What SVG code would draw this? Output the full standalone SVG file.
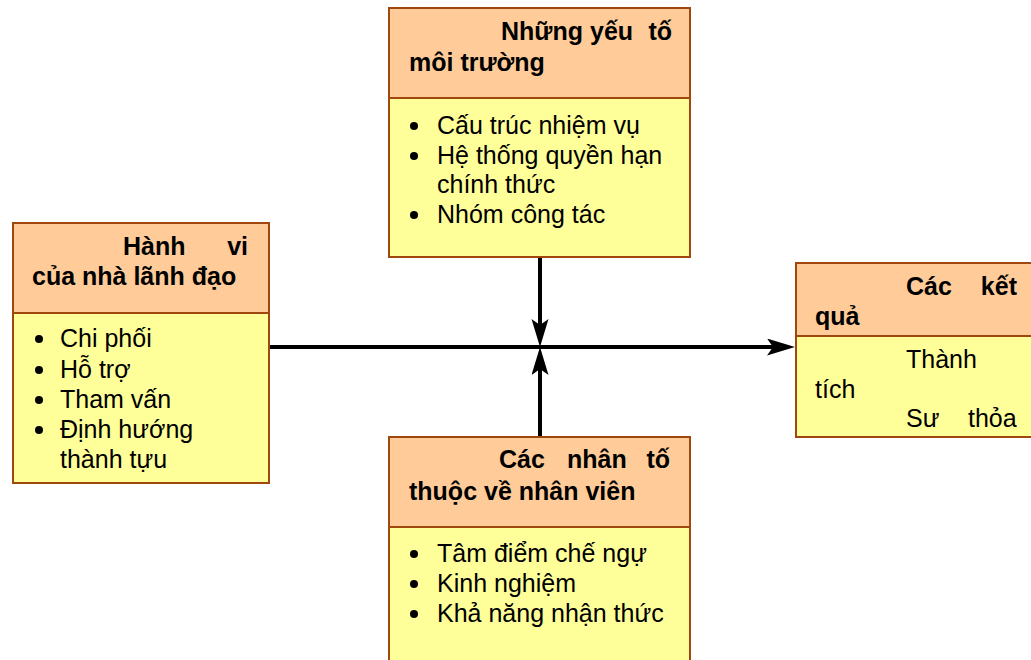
<svg xmlns="http://www.w3.org/2000/svg" width="1031" height="660" viewBox="0 0 1031 660">
<style>
.hd{fill:#FFCC99;stroke:#A0460F;stroke-width:2}
.bd{fill:#FFFF99;stroke:#A0460F;stroke-width:2}
.h{font-family:"Liberation Sans",Arial,sans-serif;font-size:25px;font-weight:bold;fill:#000}
.t{font-family:"Liberation Sans",Arial,sans-serif;font-size:25px;fill:#000}
.b{fill:#000}
.c{stroke:#000;stroke-width:4;fill:none;marker-end:url(#ah)}
</style>
<defs>
<marker id="ah" markerUnits="userSpaceOnUse" markerWidth="30" markerHeight="18" refX="8" refY="8.5" orient="auto">
<path d="M0,0 L28,8.5 L0,17 L6,8.5 Z" fill="#000"/>
</marker>
</defs>
<rect width="1031" height="660" fill="#fff"/>
<g id="connectors">
<line class="c" x1="269" y1="347" x2="775" y2="347"/>
<line class="c" x1="540" y1="257" x2="540" y2="327"/>
<line class="c" x1="540" y1="437" x2="540" y2="367"/>
</g>
<g id="node-top">
<rect class="bd" x="389" y="98" width="301" height="159"/>
<rect class="hd" x="389" y="8" width="301" height="90"/>
<text class="h" x="501" y="40">Những</text>
<text class="h" x="590" y="40">yếu</text>
<text class="h" x="672" y="40" text-anchor="end">tố</text>
<text class="h" x="409" y="71">môi trường</text>
<circle class="b" cx="414" cy="126" r="4"/>
<text class="t" x="437" y="134">Cấu trúc nhiệm vụ</text>
<circle class="b" cx="414" cy="156" r="4"/>
<text class="t" x="437" y="164">Hệ thống quyền hạn</text>
<text class="t" x="437" y="193">chính thức</text>
<circle class="b" cx="414" cy="215" r="4"/>
<text class="t" x="437" y="223">Nhóm công tác</text>
</g>
<g id="node-left">
<rect class="bd" x="13" y="313" width="256" height="170"/>
<rect class="hd" x="13" y="223" width="256" height="90"/>
<text class="h" x="123" y="255">Hành</text>
<text class="h" x="248" y="255" text-anchor="end">vi</text>
<text class="h" x="32" y="285">của nhà lãnh đạo</text>
<circle class="b" cx="39" cy="339" r="4"/>
<text class="t" x="60" y="347">Chi phối</text>
<circle class="b" cx="39" cy="370" r="4"/>
<text class="t" x="60" y="378">Hỗ trợ</text>
<circle class="b" cx="39" cy="400" r="4"/>
<text class="t" x="60" y="408">Tham vấn</text>
<circle class="b" cx="39" cy="430" r="4"/>
<text class="t" x="60" y="438">Định hướng</text>
<text class="t" x="60" y="468">thành tựu</text>
</g>
<g id="node-right">
<rect class="bd" x="796" y="336" width="250" height="101"/>
<rect class="hd" x="796" y="263" width="250" height="73"/>
<text class="h" x="906" y="295">Các</text>
<text class="h" x="1017" y="295" text-anchor="end">kết</text>
<text class="h" x="815" y="325">quả</text>
<text class="t" x="906" y="368">Thành</text>
<text class="t" x="815" y="398">tích</text>
<text class="t" x="906" y="427">Sư</text>
<text class="t" x="968" y="427">thỏa</text>
</g>
<g id="node-bottom">
<rect class="bd" x="389" y="527" width="301" height="150"/>
<rect class="hd" x="389" y="437" width="301" height="90"/>
<text class="h" x="499" y="468">Các</text>
<text class="h" x="567" y="468">nhân</text>
<text class="h" x="670" y="468" text-anchor="end">tố</text>
<text class="h" x="409" y="500">thuộc về nhân viên</text>
<circle class="b" cx="414" cy="554" r="4"/>
<text class="t" x="437" y="562">Tâm điểm chế ngự</text>
<circle class="b" cx="414" cy="584" r="4"/>
<text class="t" x="437" y="592">Kinh nghiệm</text>
<circle class="b" cx="414" cy="614" r="4"/>
<text class="t" x="437" y="622">Khả năng nhận thức</text>
</g>
</svg>
